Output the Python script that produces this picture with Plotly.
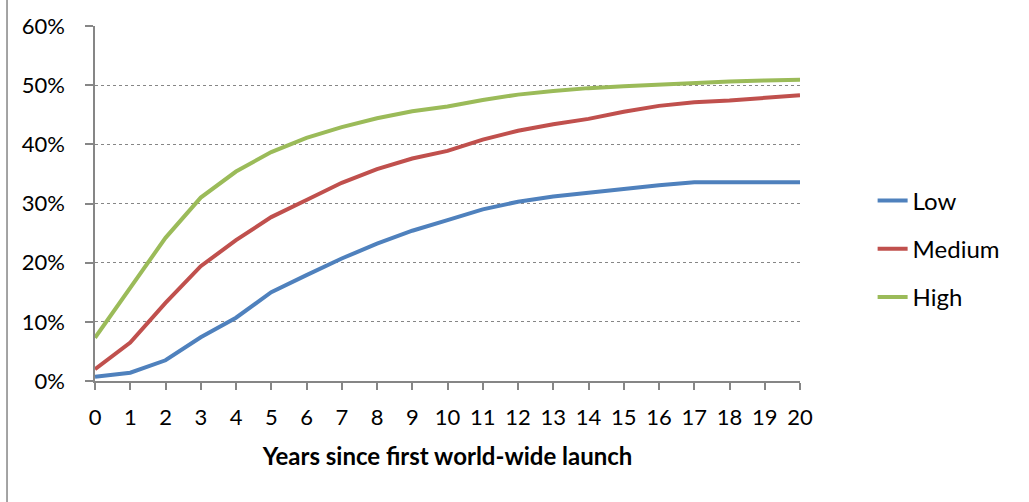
import plotly.graph_objects as go

years = list(range(0, 21))
low = [0.7, 1.4, 3.5, 7.4, 10.7, 15.0, 17.9, 20.7, 23.2, 25.4, 27.2, 29.0, 30.3, 31.2, 31.8, 32.5, 33.1, 33.6, 33.6, 33.6, 33.6]
medium = [2.0, 6.5, 13.2, 19.4, 23.8, 27.7, 30.6, 33.5, 35.8, 37.6, 38.9, 40.8, 42.3, 43.4, 44.3, 45.5, 46.5, 47.1, 47.4, 47.8, 48.3]
high = [7.3, 15.8, 24.2, 31.0, 35.4, 38.7, 41.1, 42.9, 44.4, 45.6, 46.4, 47.5, 48.4, 49.0, 49.5, 49.8, 50.1, 50.4, 50.6, 50.8, 50.9]
series_names = ["Low", "Medium", "High"]
series_colors = ["#4F81BD", "#C0504D", "#9BBB59"]
y_ticks = [0, 10, 20, 30, 40, 50, 60]
y_tick_labels = ["0%", "10%", "20%", "30%", "40%", "50%", "60%"]
x_title = "Years since first world-wide launch"

FONT = "Lato"
fig = go.Figure()
for i, (name, vals, col) in enumerate(zip(series_names, [low, medium, high], series_colors)):
    fig.add_trace(go.Scatter(
        x=years, y=[v / 100 for v in vals], mode="lines", name=name,
        line=dict(color=col, width=4), legendgroup=name,
    ))

fig.update_layout(
    width=1029, height=502,
    margin=dict(l=95, r=229, t=26, b=121),
    paper_bgcolor="white", plot_bgcolor="white",
    font=dict(family=FONT, size=22, color="black"),
    showlegend=True,
    legend=dict(x=1.103, y=0.372, xanchor="left", yanchor="middle",
                traceorder="grouped", tracegroupgap=14,
                font=dict(family=FONT, size=24, color="black"),
                bgcolor="rgba(0,0,0,0)"),
    xaxis=dict(
        range=[0, 20], tickmode="array", tickvals=years,
        ticktext=[str(y) for y in years],
        showgrid=False, zeroline=False,
        showline=True, linecolor="#868686", linewidth=1.5,
        ticks="outside", ticklen=7, tickcolor="#868686", tickwidth=1.5,
        ticklabelstandoff=9,
        tickfont=dict(family=FONT, size=22, color="black"),
        title=dict(text="<b>" + x_title + "</b>", font=dict(family=FONT, size=24, color="black"), standoff=19),
    ),
    yaxis=dict(
        range=[0, 0.6], tickmode="array", tickvals=[v / 100 for v in y_ticks],
        ticktext=y_tick_labels,
        showgrid=True, gridcolor="#868686", gridwidth=1, griddash="dot",
        zeroline=False,
        showline=True, linecolor="#868686", linewidth=1.5,
        ticks="outside", ticklen=8, tickcolor="#868686", tickwidth=1.5,
        ticklabelstandoff=16,
        tickfont=dict(family=FONT, size=22, color="black"),
    ),
    shapes=[dict(type="line", xref="paper", yref="paper",
                 x0=-0.1248, x1=-0.1248, y0=-0.35, y1=1.08,
                 line=dict(color="#868686", width=1.5))],
)

fig.write_html("out.html", config={"displayModeBar": False},
               post_script="document.body.style.margin='0';document.body.style.overflow='hidden';")
